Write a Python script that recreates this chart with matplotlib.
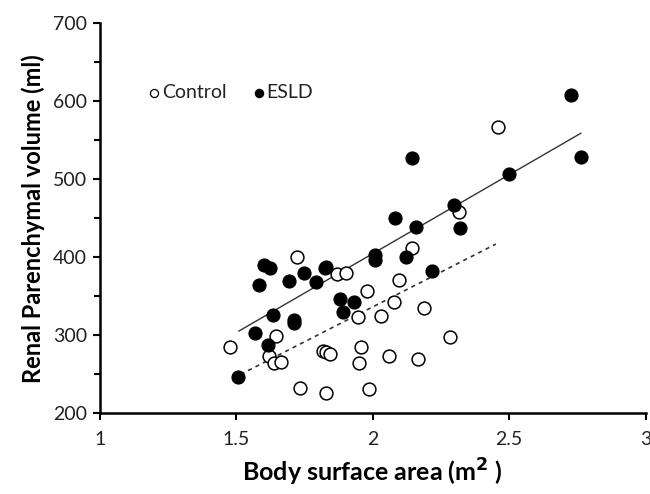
import numpy as np
import matplotlib.pyplot as plt
from matplotlib.ticker import MultipleLocator

# ---------------- data ----------------
esld_bsa = [1.508, 1.567, 1.584, 1.601, 1.623, 1.618, 1.633, 1.693, 1.713, 1.713,
            1.748, 1.791, 1.824, 1.830, 1.881, 1.891, 1.933, 2.010, 2.010, 2.081,
            2.120, 2.142, 2.159, 2.218, 2.296, 2.320, 2.498, 2.726, 2.762]
esld_vol = [246, 303, 364, 390, 386, 288, 326, 370, 320, 316,
            380, 368, 386, 388, 346, 330, 343, 403, 397, 450,
            400, 527, 439, 382, 467, 437, 507, 608, 529]

ctrl_bsa = [1.479, 1.645, 1.620, 1.638, 1.665, 1.723, 1.735, 1.818, 1.830, 1.842,
            1.830, 1.869, 1.903, 1.946, 1.957, 1.949, 1.978, 1.988, 2.030, 2.058,
            2.079, 2.096, 2.144, 2.164, 2.189, 2.283, 2.317, 2.460]
ctrl_vol = [285, 299, 273, 265, 266, 400, 233, 280, 279, 276,
            226, 379, 380, 324, 285, 265, 357, 231, 325, 273,
            343, 371, 412, 270, 335, 298, 458, 567]

# regression line end points
esld_fit_x = [1.51, 2.762]
esld_fit_y = [305.5, 559]
ctrl_fit_x = [1.489, 2.451]
ctrl_fit_y = [245, 417]

plt.rcParams['font.family'] = ['Lato', 'DejaVu Sans']

fig = plt.figure(figsize=(6.5, 4.94), dpi=100)
ax = fig.add_axes([0.1534, 0.1634, 0.8401, 0.7894])

ax.plot(esld_fit_x, esld_fit_y, color='#333333', lw=1.0, zorder=1)
ax.plot(ctrl_fit_x, ctrl_fit_y, color='#333333', lw=1.2, ls=(0, (2.5, 2.5)), zorder=1)

ax.scatter(ctrl_bsa, ctrl_vol, s=85, facecolors='white', edgecolors='black',
           linewidths=1.1, zorder=2)
ax.scatter(esld_bsa, esld_vol, s=85, facecolors='black', edgecolors='black',
           linewidths=1.0, zorder=3)

ax.set_xlim(1, 3)
ax.set_ylim(200, 700)
ax.yaxis.set_major_locator(MultipleLocator(100))
ax.yaxis.set_minor_locator(MultipleLocator(50))
ax.set_xticks([1, 1.5, 2, 2.5, 3], ['1', '1.5', '2', '2.5', '3'])

for s in ['top', 'right']:
    ax.spines[s].set_visible(False)
for s in ['left', 'bottom']:
    ax.spines[s].set_linewidth(1.8)
ax.tick_params(which='both', direction='out', width=1.5, labelsize=14,
               colors='black', labelcolor='#222222')
ax.tick_params(which='major', length=5, pad=8)
ax.tick_params(which='minor', length=4)
ax.tick_params(axis='y', pad=4)

ax.set_xlabel('Body surface area (m$^{\\mathbf{2}}$ )', fontsize=18, fontweight='bold', labelpad=6)
ax.set_ylabel('Renal Parenchymal volume (ml)', fontsize=17, fontweight='bold', labelpad=6)

# legend drawn as marker + text
ax.scatter([1.2], [611], s=34, facecolors='white', edgecolors='black', linewidths=0.9,
           clip_on=False)
ax.text(1.228, 611, 'Control', fontsize=14, va='center', ha='left', color='#222222')
ax.scatter([1.585], [611], s=34, facecolors='black', edgecolors='black', clip_on=False)
ax.text(1.61, 611, 'ESLD', fontsize=14, va='center', ha='left', color='#222222')

fig.savefig('out.png', dpi=100)
